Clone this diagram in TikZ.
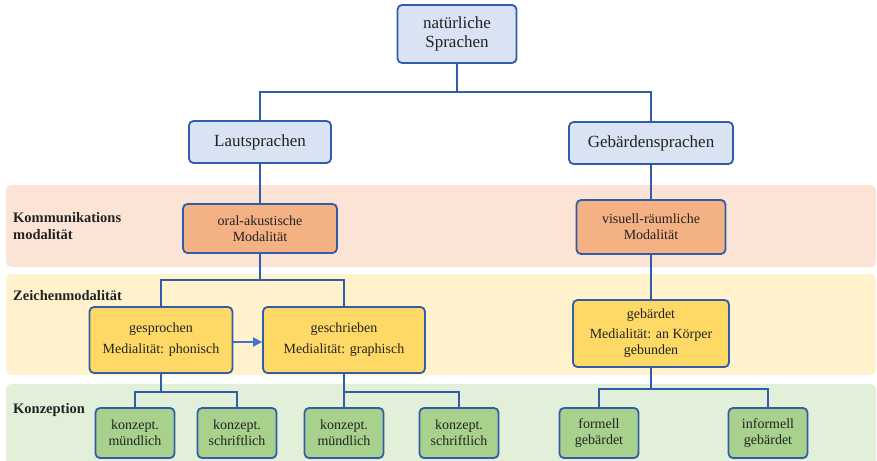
\documentclass[tikz,border=0pt]{standalone}
\usepackage{fontspec}
\setmainfont{Liberation Serif}
\usetikzlibrary{arrows.meta}
\definecolor{lineblue}{HTML}{315DA8}
\definecolor{arrblue}{HTML}{4472C4}
\definecolor{txt}{HTML}{222222}
\definecolor{bandA}{HTML}{FBE4D6}
\definecolor{bandB}{HTML}{FFF2CC}
\definecolor{bandC}{HTML}{E2EFD9}
\definecolor{fillblue}{HTML}{DAE3F3}
\definecolor{fillorange}{HTML}{F4B183}
\definecolor{fillyellow}{HTML}{FFD966}
\definecolor{fillgreen}{HTML}{A9D18E}
\tikzset{
  box/.style={draw=lineblue, line width=1.8pt, rounded corners=4.5pt, inner sep=0pt,
    align=center, text=txt, font=\fontsize{14}{16}\selectfont},
  topbox/.style={box, fill=fillblue, font=\fontsize{17}{19}\selectfont},
  orangebox/.style={box, fill=fillorange},
  yellowbox/.style={box, fill=fillyellow},
  greenbox/.style={box, fill=fillgreen, minimum width=79pt, minimum height=50pt},
  link/.style={draw=lineblue, line width=1.8pt},
  band/.style={rounded corners=5pt},
  lbl/.style={anchor=west, align=left, inner sep=0pt, text=txt,
    font=\fontsize{14.5}{17}\selectfont\bfseries}
}
\begin{document}
\begin{tikzpicture}[x=1pt, y=-1pt]
\useasboundingbox (0,0) rectangle (877,460);
% bands
\fill[band, bandA] (6,185) rectangle (876,267);
\fill[band, bandB] (6,274) rectangle (876,375);
\fill[band, bandC] (6,384) rectangle (876,468);
% band labels
\node[lbl] (lk) at (13,226) {Kommunikations\\modalität};
\node[lbl] (lz) at (13,296) {Zeichenmodalität};
\node[lbl] (lc) at (13,410) {Konzeption};
% nodes
\node[topbox, minimum width=119pt, minimum height=58pt] (nat) at (457,34) {natürliche\\Sprachen};
\node[topbox, minimum width=142pt, minimum height=42pt] (laut) at (260,142) {Lautsprachen};
\node[topbox, minimum width=164pt, minimum height=42pt] (geb) at (651,143) {Gebärdensprachen};
\node[orangebox, minimum width=154pt, minimum height=49pt] (oral) at (260,228.5) {oral-akustische\\Modalität};
\node[orangebox, minimum width=149pt, minimum height=54pt] (visu) at (651,227) {visuell-räumliche\\Modalität};
\node[yellowbox, minimum width=143pt, minimum height=66pt] (gesp) at (161,340) {gesprochen\\[5pt]Medialität: phonisch};
\node[yellowbox, minimum width=162pt, minimum height=66pt] (gesch) at (344,340) {geschrieben\\[5pt]Medialität: graphisch};
\node[yellowbox, minimum width=156pt, minimum height=67pt] (gebd) at (651,333.5) {gebärdet\\[4pt]Medialität: an Körper\\gebunden};
\node[greenbox] (km1) at (135,433) {konzept.\\mündlich};
\node[greenbox] (ks1) at (237,433) {konzept.\\schriftlich};
\node[greenbox] (km2) at (344,433) {konzept.\\mündlich};
\node[greenbox] (ks2) at (459,433) {konzept.\\schriftlich};
\node[greenbox] (fg) at (599,433) {formell\\gebärdet};
\node[greenbox] (ig) at (768,433) {informell\\gebärdet};
% connectors
\draw[link] (nat.south) -- ++(0,28) -| (laut.north);
\draw[link] (nat.south) -- ++(0,28) -| (geb.north);
\draw[link] (laut.south) -- (oral.north);
\draw[link] (geb.south) -- (visu.north);
\draw[link] (oral.south) -- ++(0,26) -| (gesp.north);
\draw[link] (oral.south) -- ++(0,26) -| (gesch.north);
\draw[link] (visu.south) -- (gebd.north);
\draw[link] (gesp.south) -- ++(0,18) -| (km1.north);
\draw[link] (gesp.south) -- ++(0,18) -| (ks1.north);
\draw[link] (gesch.south) -- ++(0,18) -| (km2.north);
\draw[link] (gesch.south) -- ++(0,18) -| (ks2.north);
\draw[link] (gebd.south) -- ++(0,21) -| (fg.north);
\draw[link] (gebd.south) -- ++(0,21) -| (ig.north);
\draw[draw=arrblue, line width=1.8pt, -{Triangle[length=9pt, width=9pt]}] ([yshift=-2pt]gesp.east) -- ([yshift=-2pt]gesch.west);
\end{tikzpicture}
\end{document}
